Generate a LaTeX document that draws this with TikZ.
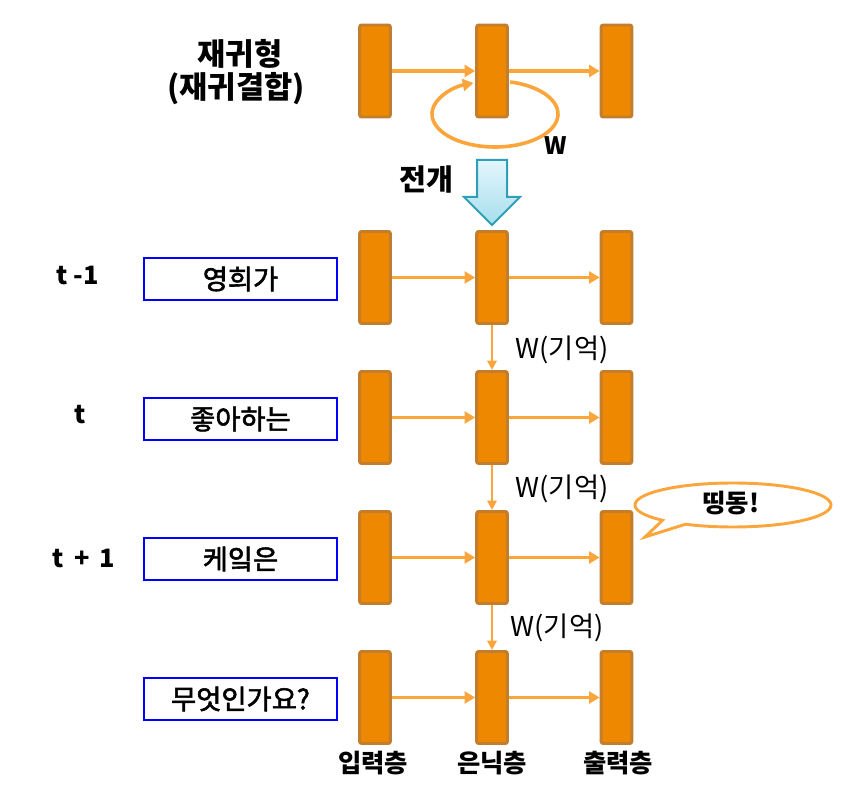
\documentclass[tikz,border=0pt]{standalone}
\usepackage{fontspec}
\setmainfont{Noto Sans CJK KR}
\newfontfamily\medfont[FakeBold=2]{Noto Sans CJK KR}
\usetikzlibrary{arrows.meta}
\definecolor{barfill}{HTML}{EE8800}
\definecolor{barline}{HTML}{C27E2C}
\definecolor{arrcol}{HTML}{FAA63C}
\definecolor{cyanline}{HTML}{2F9FB6}
\definecolor{cyantop}{HTML}{E4F6FB}
\definecolor{cyanbot}{HTML}{A6DEEE}
\tikzset{
  bar/.style={draw=barline, fill=barfill, line width=2.2pt, rounded corners=1.5pt,
    minimum width=23pt, minimum height=69pt, inner sep=0pt},
  harr/.style={draw=arrcol, line width=2.7pt, -{Triangle[length=8pt,width=9pt]}},
  varr/.style={draw=arrcol, line width=1.7pt, -{Triangle[length=7pt,width=7pt]}},
  wordbox/.style={draw=blue, line width=1.5pt, minimum width=145pt, minimum height=32pt,
    inner sep=0pt, font=\medfont\fontsize{20.5}{24}\selectfont},
  boldlbl/.style={font=\bfseries\fontsize{19}{22}\selectfont, inner sep=0pt},
  wlbl/.style={font=\fontsize{20.5}{24}\selectfont, inner sep=0pt},
}
\begin{document}
\begin{tikzpicture}[x=0.75pt,y=-0.75pt]
\useasboundingbox (0,0) rectangle (865,791);

% self loop (behind bars)
\coordinate (loopc) at (495,114);
\draw[arrcol, line width=2.7pt, -{Triangle[length=8pt,width=9pt]}]
  (loopc) ++(-76:63 and 33) arc[start angle=-76, end angle=250, x radius=63, y radius=33];

% bars and horizontal arrows
\foreach \r/\y in {1/71,2/277.5,3/417.5,4/557.5,5/697.5}{
  \node[bar] (a\r) at (375,\y) {};
  \node[bar] (h\r) at (492,\y) {};
  \node[bar] (o\r) at (616.5,\y) {};
  \draw[harr] (a\r) -- (h\r);
  \draw[harr] (h\r) -- (o\r);
}

% vertical memory arrows
\draw[varr] (h2) -- (h3);
\draw[varr] (h3) -- (h4);
\draw[varr] (h4) -- (h5);
\node[wlbl] (m1) at (562,350) {W(기억)};
\node[wlbl] (m2) at (562,489) {W(기억)};
\node[wlbl] (m3) at (557,628) {W(기억)};

% title
\node[font=\bfseries\fontsize{23}{27}\selectfont, inner sep=0pt] (t1) at (240,54) {재귀형};
\node[font=\bfseries\fontsize{23}{27}\selectfont, inner sep=0pt] (t2) at (236,89) {(재귀결합)};
\node[font=\bfseries\fontsize{18}{20}\selectfont, inner sep=0pt] (w) at (556,146) {W};

% unfold arrow
\draw[cyanline, line width=1.5pt, top color=cyantop, bottom color=cyanbot]
  (477,160) -- (507,160) -- (507,197) -- (520,197) -- (492,225) -- (464,197) -- (477,197) -- cycle;
\node[font=\bfseries\fontsize{22}{26}\selectfont, inner sep=0pt] (unf) at (426,180) {전개};

% word boxes
\node[wordbox] (w2) at (240.5,279) {영희가};
\node[wordbox] (w3) at (240.5,419) {좋아하는};
\node[wordbox] (w4) at (240.5,559) {케잌은};
\node[wordbox] (w5) at (240.5,699) {무엇인가요?};

% time labels
\node[boldlbl] (tm1) at (78,275) {t -1};
\node[boldlbl] (tt) at (80,415) {t};
\node[boldlbl] (tp1) at (84,558) {t\, +\, 1};

% speech bubble
\draw[arrcol, line width=2.2pt, fill=white]
  (733,505) ++(136:98 and 22) arc[start angle=136, end angle=479, x radius=98, y radius=22]
  -- (645,537) -- cycle;
\node[font=\bfseries\fontsize{19}{22}\selectfont, inner sep=0pt] (ding) at (731,503) {띵동!};

% layer labels
\node[boldlbl] (l1) at (373,763) {입력층};
\node[boldlbl] (l2) at (492,763) {은닉층};
\node[boldlbl] (l3) at (618,763) {출력층};
\end{tikzpicture}
\end{document}
